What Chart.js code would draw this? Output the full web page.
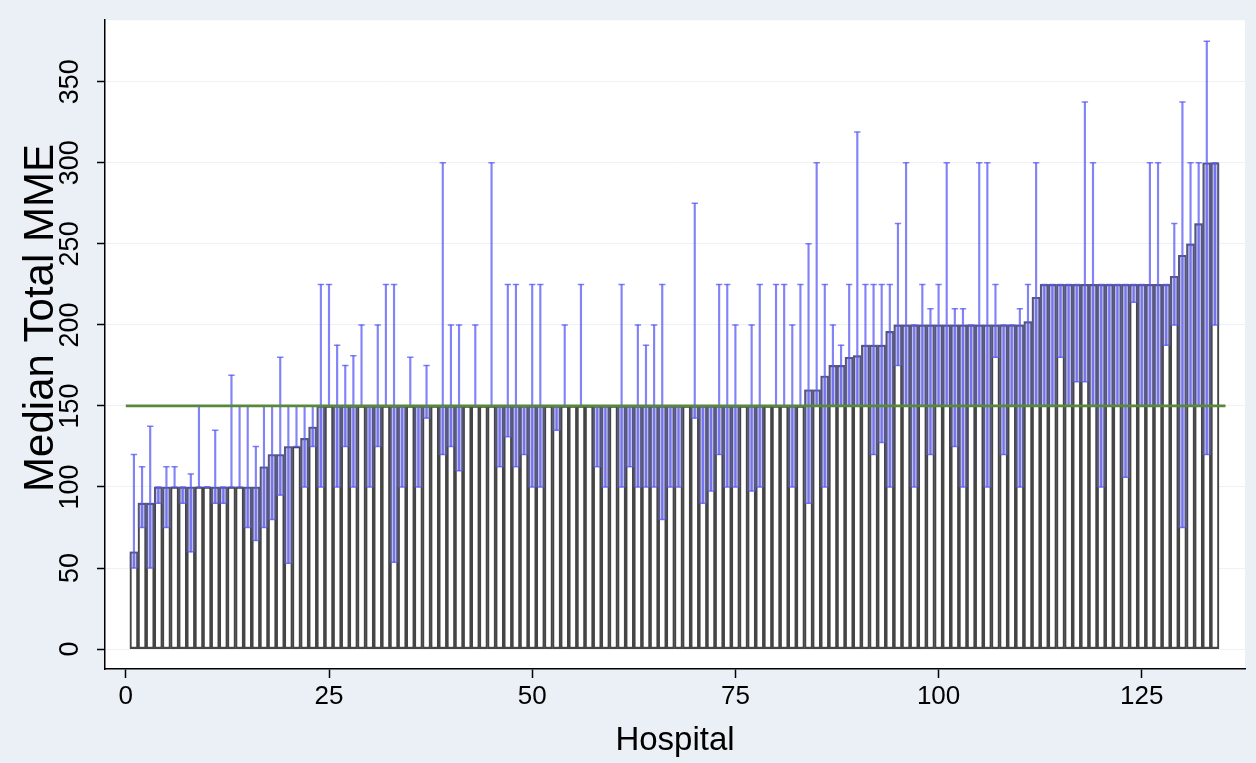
<!DOCTYPE html>
<html>
<head>
<meta charset="utf-8">
<script src="https://cdn.jsdelivr.net/npm/chart.js@4.4.1/dist/chart.umd.min.js"></script>
<style>
  html, body { margin: 0; padding: 0; background: #eaf0f5; }
  #chart { display: block; }
</style>
</head>
<body>
<canvas id="chart" width="1256" height="763"></canvas>
<script>
// per-hospital opioid MME: 25th percentile, median, 75th percentile (hospitals 1..134)
const p25Vals = [
  50, 75, 50, 90, 75, 100, 90, 60, 100, 100,
  90, 90, 100, 100, 75, 67, 75, 80, 95, 53,
  125, 100, 125, 100, 150, 100, 125, 100, 150, 100,
  125, 150, 53.5, 100, 150, 100, 142.5, 150, 120, 125,
  110, 150, 150, 150, 150, 112.5, 131, 112.5, 120, 100,
  100, 150, 135, 150, 150, 150, 150, 112.5, 100, 150,
  100, 112.5, 100, 100, 100, 80, 100, 100, 150, 142.5,
  90, 97.5, 120, 100, 100, 150, 97.5, 100, 150, 150,
  150, 100, 150, 90, 150, 100, 150, 150, 150, 150,
  150, 120, 127.5, 100, 175, 150, 100, 150, 120, 150,
  150, 125, 100, 150, 150, 100, 180, 120, 150, 100,
  150, 150, 150, 150, 180, 150, 165, 165, 150, 100,
  150, 150, 106, 214, 150, 150, 150, 187.5, 200, 75,
  150, 150, 120, 200
];
const medianVals = [
  60, 90, 90, 100, 100, 100, 100, 100, 100, 100,
  100, 100, 100, 100, 100, 100, 112.5, 120, 120, 125,
  125, 130, 137, 150, 150, 150, 150, 150, 150, 150,
  150, 150, 150, 150, 150, 150, 150, 150, 150, 150,
  150, 150, 150, 150, 150, 150, 150, 150, 150, 150,
  150, 150, 150, 150, 150, 150, 150, 150, 150, 150,
  150, 150, 150, 150, 150, 150, 150, 150, 150, 150,
  150, 150, 150, 150, 150, 150, 150, 150, 150, 150,
  150, 150, 150, 160, 160, 168.5, 175, 175, 180, 181,
  187.5, 187.5, 187.5, 196, 200, 200, 200, 200, 200, 200,
  200, 200, 200, 200, 200, 200, 200, 200, 200, 200,
  202, 217, 225, 225, 225, 225, 225, 225, 225, 225,
  225, 225, 225, 225, 225, 225, 225, 225, 230, 243,
  250, 262.5, 300, 300
];
const p75Vals = [
  120, 112.5, 137.5, 100, 112.5, 112.5, 100, 108, 150, 100,
  135, 100, 169, 150, 150, 125, 150, 150, 180, 150,
  150, 150, 150, 225, 225, 187.5, 175, 181, 200, 150,
  200, 225, 225, 150, 180, 150, 175, 150, 300, 200,
  200, 150, 200, 150, 300, 150, 225, 225, 150, 225,
  225, 150, 150, 200, 150, 225, 150, 150, 150, 150,
  225, 150, 200, 187.5, 200, 225, 150, 150, 150, 275,
  150, 150, 225, 225, 200, 150, 200, 225, 150, 225,
  225, 200, 225, 250, 300, 225, 200, 187.5, 225, 319,
  225, 225, 225, 225, 262.5, 300, 200, 225, 210, 225,
  300, 210, 210, 200, 300, 300, 225, 200, 200, 210,
  225, 300, 225, 225, 225, 225, 225, 337.5, 300, 225,
  225, 225, 225, 225, 225, 300, 300, 225, 262.5, 337.5,
  300, 300, 375, 300
];
const refValue = 150;          // reference line
const refSpan = [0, 135.3];    // hospital range it covers
const xTicks = [0, 25, 50, 75, 100, 125];
const yTicks = [0, 50, 100, 150, 200, 250, 300, 350];
const yTitle = 'Median Total MME';

const FONT = "'Liberation Sans', Arial, sans-serif";
const BLUE = 'rgba(90, 90, 245, 0.75)';

const medianData = medianVals.map((v, i) => ({ x: i + 1, y: v }));
const fillData = medianVals.map((v, i) => ({ x: i + 1, y: [p25Vals[i], v] }));
const whiskerData = p75Vals.map((v, i) => ({ x: i + 1, y: [p25Vals[i], v] }));
const capData = [];
p25Vals.forEach((v, i) => {
  capData.push({ x: i + 1, y: v });
  capData.push({ x: i + 1, y: p75Vals[i] });
});
const refData = refSpan.map(x => ({ x: x, y: refValue }));

// white plot region on the grey graph region, and the y title (Stata puts it a bit above centre)
const plotBg = {
  id: 'plotBg',
  beforeDraw(chart) {
    const { ctx, chartArea: a } = chart;
    ctx.save();
    ctx.fillStyle = '#ffffff';
    ctx.fillRect(a.left, a.top, a.right - a.left, a.bottom - a.top);
    ctx.restore();
  },
  afterDraw(chart) {
    const ctx = chart.ctx;
    ctx.save();
    ctx.translate(41, 318);
    ctx.rotate(-Math.PI / 2);
    ctx.font = '42px ' + FONT;
    ctx.fillStyle = '#000';
    ctx.textAlign = 'center';
    ctx.textBaseline = 'middle';
    ctx.fillText(yTitle, 0, 0);
    ctx.restore();
  }
};

new Chart(document.getElementById('chart').getContext('2d'), {
  type: 'bar',
  data: {
    datasets: [
      { type: 'line', data: refData, borderColor: '#58883a', borderWidth: 2.8, pointRadius: 0, order: 0 },
      { type: 'scatter', data: capData, pointStyle: 'line', pointRadius: 3.2, borderColor: BLUE,
        backgroundColor: BLUE, pointBorderWidth: 1.5, order: 1 },
      { type: 'bar', data: whiskerData, backgroundColor: BLUE, barThickness: 1.5, grouped: false, order: 2 },
      { type: 'bar', data: fillData, backgroundColor: 'rgba(110, 110, 200, 0.42)', borderWidth: 0,
        barPercentage: 1, categoryPercentage: 1, grouped: false, order: 3 },
      { type: 'bar', data: medianData, backgroundColor: '#ffffff', borderColor: '#454545', borderWidth: 2.1,
        borderSkipped: false, barPercentage: 1, categoryPercentage: 1, grouped: false, order: 4 }
    ]
  },
  options: {
    responsive: false,
    animation: false,
    layout: { padding: { top: 18, right: 11, left: 0, bottom: 0 } },
    plugins: { legend: { display: false }, tooltip: { enabled: false } },
    scales: {
      x: {
        type: 'linear', min: -2.56, max: 137.7, offset: false,
        afterBuildTicks: s => { s.ticks = xTicks.map(v => ({ value: v })); },
        afterFit: s => { s.height = 94; },
        grid: { drawOnChartArea: false, offset: false, tickLength: 9, tickColor: '#000', tickWidth: 1.5 },
        border: { color: '#000', width: 1.5 },
        ticks: { color: '#000', font: { size: 26, family: FONT }, padding: 3, maxRotation: 0, autoSkip: false },
        title: { display: true, text: 'Hospital', color: '#000', font: { size: 33, family: FONT },
                 padding: { top: 0, bottom: 2 } }
      },
      y: {
        min: -12.3, max: 388,
        afterBuildTicks: s => { s.ticks = yTicks.map(v => ({ value: v })); },
        afterFit: s => { s.width = 105; },
        grid: { color: '#eef2f6', lineWidth: 1, tickLength: 8, tickColor: '#000', tickWidth: 1.5 },
        border: { color: '#000', width: 1.5 },
        ticks: { color: '#000', font: { size: 27, family: FONT }, minRotation: 90, maxRotation: 90,
                 crossAlign: 'center', padding: 4 }
      }
    }
  },
  plugins: [plotBg]
});
</script>
</body>
</html>
